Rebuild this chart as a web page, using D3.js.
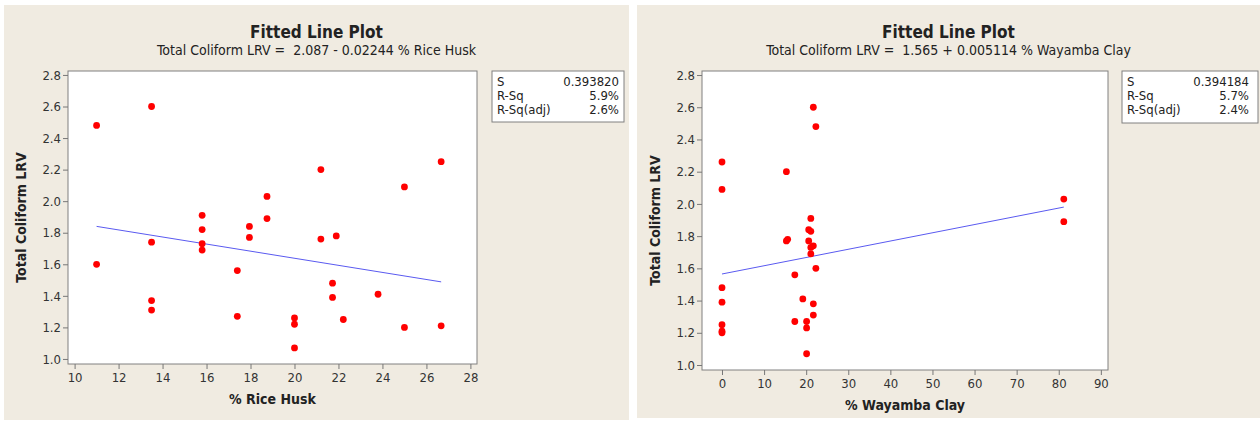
<!DOCTYPE html>
<html>
<head>
<meta charset="utf-8">
<script src="https://cdn.jsdelivr.net/npm/d3@7"></script>
<style>
  body { margin: 0; background: #ffffff; }
  svg text { font-family: "DejaVu Sans Condensed", "DejaVu Sans", sans-serif; fill: #222; }
  .tick text { font-size: 13px; fill: #333; }
  .tick line { stroke: #777; }
</style>
</head>
<body>
<div id="chart"></div>
<script>
// data
var huskPct = [11.0, 13.5, 11.0, 13.5, 13.5, 13.5, 15.8, 15.8, 15.8, 15.8,
               17.4, 17.4, 17.95, 17.95, 18.75, 18.75, 20.0, 20.0, 20.0, 21.2,
               21.2, 21.9, 21.73, 21.73, 22.22, 23.8, 25.0, 25.0, 26.67, 26.67];
var huskLRV = [2.48, 2.60, 1.60, 1.74, 1.37, 1.31, 1.91, 1.82, 1.73, 1.69,
               1.56, 1.27, 1.84, 1.77, 2.03, 1.89, 1.26, 1.22, 1.07, 2.20,
               1.76, 1.78, 1.48, 1.39, 1.25, 1.41, 2.09, 1.20, 2.25, 1.21];

var clayPct = [0, 0, 0, 0, 0, 0, 0, 15.3, 15.3, 15.6,
               17.3, 17.3, 19.2, 20.1, 20.1, 20.1, 20.6, 20.6, 21.1, 21.1,
               21.1, 21.1, 21.7, 21.7, 21.7, 21.7, 22.3, 22.3, 81.2, 81.2];
var clayLRV = [2.26, 2.09, 1.48, 1.39, 1.25, 1.21, 1.20, 2.20, 1.77, 1.78,
               1.56, 1.27, 1.41, 1.27, 1.23, 1.07, 1.84, 1.77, 1.91, 1.83,
               1.73, 1.69, 2.60, 1.74, 1.38, 1.31, 2.48, 1.60, 2.03, 1.89];

var lrvTicks = [1.0, 1.2, 1.4, 1.6, 1.8, 2.0, 2.2, 2.4, 2.6, 2.8];
var huskTicks = [10, 12, 14, 16, 18, 20, 22, 24, 26, 28];
var clayTicks = [0, 10, 20, 30, 40, 50, 60, 70, 80, 90];

var statLabels = ["S", "R-Sq", "R-Sq(adj)"];
var huskStats = ["0.393820", "5.9%", "2.6%"];
var clayStats = ["0.394184", "5.7%", "2.4%"];

var svg = d3.select("#chart")
    .append("svg")
    .attr("width", 1260)
    .attr("height", 424);

function drawPanel(p) {
    var g = svg.append("g");

    // beige panel background
    g.append("rect")
        .attr("x", p.bg[0]).attr("y", p.bg[1])
        .attr("width", p.bg[2]).attr("height", p.bg[3])
        .attr("fill", "#f0ebe1");

    var x = d3.scaleLinear().domain(p.xDomain).range([p.frame.left, p.frame.right]);
    var y = d3.scaleLinear().domain(p.yDomain).range([p.frame.bottom, p.frame.top]);

    // plot area
    g.append("rect")
        .attr("x", p.frame.left).attr("y", p.frame.top)
        .attr("width", p.frame.right - p.frame.left)
        .attr("height", p.frame.bottom - p.frame.top)
        .attr("fill", "#fff")
        .attr("stroke", "#808080");

    var cx = p.bg[0] + p.bg[2] / 2;
    g.append("text")
        .attr("x", cx).attr("y", 38)
        .attr("text-anchor", "middle")
        .style("font-size", "17px").style("font-weight", "bold")
        .text("Fitted Line Plot");
    g.append("text")
        .attr("x", cx).attr("y", 55)
        .attr("text-anchor", "middle")
        .style("font-size", "14px")
        .style("white-space", "pre")
        .text(p.subtitle);

    // axes
    var xa = g.append("g")
        .attr("transform", "translate(0," + p.frame.bottom + ")")
        .call(d3.axisBottom(x).tickValues(p.xTicks).tickSize(5).tickSizeOuter(0).tickPadding(4));
    xa.select(".domain").remove();

    var ya = g.append("g")
        .attr("transform", "translate(" + p.frame.left + ",0)")
        .call(d3.axisLeft(y).tickValues(lrvTicks).tickFormat(d3.format(".1f"))
            .tickSize(5).tickSizeOuter(0).tickPadding(2));
    ya.select(".domain").remove();

    g.append("text")
        .attr("x", (p.frame.left + p.frame.right) / 2)
        .attr("y", p.frame.bottom + 40)
        .attr("text-anchor", "middle")
        .style("font-size", "14px").style("font-weight", "bold")
        .text(p.xLabel);

    g.append("text")
        .attr("transform", "translate(" + (p.frame.left - 42) + "," +
            ((p.frame.top + p.frame.bottom) / 2) + ")rotate(-90)")
        .attr("text-anchor", "middle")
        .style("font-size", "14px").style("font-weight", "bold")
        .text("Total Coliform LRV");

    // fitted line over the range of the data
    var ext = d3.extent(p.xs);
    g.append("line")
        .attr("x1", x(ext[0])).attr("y1", y(p.b0 + p.b1 * ext[0]))
        .attr("x2", x(ext[1])).attr("y2", y(p.b0 + p.b1 * ext[1]))
        .attr("stroke", "#5a5af0")
        .attr("stroke-width", 1);

    // points
    g.append("g")
        .selectAll("circle")
        .data(p.xs.map(function (d, i) { return [d, p.ys[i]]; }))
        .enter()
        .append("circle")
            .attr("cx", function (d) { return x(d[0]); })
            .attr("cy", function (d) { return y(d[1]); })
            .attr("r", 3.4)
            .style("fill", "#ff0000");

    // stats box
    var b = p.box;
    g.append("rect")
        .attr("x", b.x).attr("y", b.y).attr("width", b.w).attr("height", b.h)
        .attr("fill", "#fff").attr("stroke", "#808080");
    statLabels.forEach(function (lab, i) {
        g.append("text")
            .attr("x", b.x + 5).attr("y", b.y + 15 + i * 14)
            .style("font-size", "13px")
            .text(lab);
        g.append("text")
            .attr("x", b.x + b.w - b.pr).attr("y", b.y + 15 + i * 14)
            .attr("text-anchor", "end")
            .style("font-size", "13px")
            .text(p.stats[i]);
    });
}

drawPanel({
    bg: [4, 5, 625, 415],
    frame: {left: 68, right: 477, top: 71, bottom: 364},
    xDomain: [9.7, 28.3], yDomain: [0.968, 2.825],
    xTicks: huskTicks, xs: huskPct, ys: huskLRV,
    b0: 2.087, b1: -0.02244,
    subtitle: "Total Coliform LRV =  2.087 - 0.02244 % Rice Husk",
    xLabel: "% Rice Husk",
    box: {x: 492, y: 71, w: 132, h: 51, pr: 5},
    stats: huskStats
});

drawPanel({
    bg: [637, 5, 623, 413],
    frame: {left: 702, right: 1108, top: 71, bottom: 370},
    xDomain: [-4.75, 91.7], yDomain: [0.969, 2.825],
    xTicks: clayTicks, xs: clayPct, ys: clayLRV,
    b0: 1.565, b1: 0.005114,
    subtitle: "Total Coliform LRV =  1.565 + 0.005114 % Wayamba Clay",
    xLabel: "% Wayamba Clay",
    box: {x: 1122, y: 71, w: 136, h: 52, pr: 9},
    stats: clayStats
});
</script>
</body>
</html>
